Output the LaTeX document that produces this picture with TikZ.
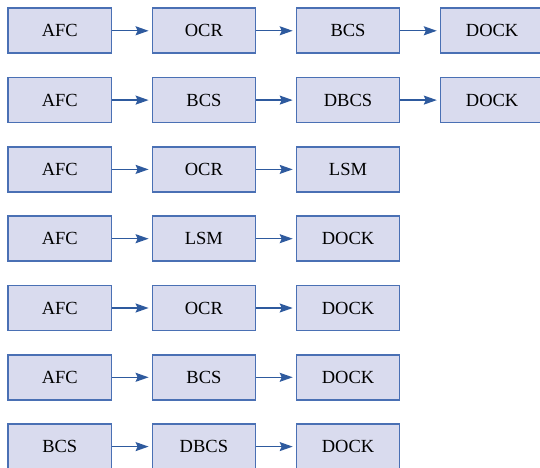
\documentclass[tikz,border=0pt]{standalone}
\usepackage{fontspec}
\setmainfont{Liberation Serif}
\usetikzlibrary{arrows.meta}
\definecolor{boxfill}{HTML}{D9DBEE}
\definecolor{boxline}{HTML}{4A70B4}
\definecolor{arrowcol}{HTML}{2E5A9E}
\tikzset{
  stagebox/.style={draw=boxline, fill=boxfill, line width=1.6bp, minimum width=103bp, minimum height=45bp, inner sep=0pt, font=\fontsize{18.5bp}{20bp}\selectfont},
  flow/.style={draw=arrowcol, line width=1.4bp, -{Stealth[length=13bp,width=9bp,inset=2bp]}, shorten >=3bp}
}
\begin{document}
\begin{tikzpicture}[x=1bp,y=-1bp]
\clip (0,0) rectangle (540,468);
\foreach \row/\labels in {1/{AFC,OCR,BCS,DOCK},2/{AFC,BCS,DBCS,DOCK},3/{AFC,OCR,LSM},4/{AFC,LSM,DOCK},5/{AFC,OCR,DOCK},6/{AFC,BCS,DOCK},7/{BCS,DBCS,DOCK}}{
  \foreach \lab [count=\col] in \labels {
    \node[stagebox] (r\row c\col) at ({59.8+144.1*(\col-1)},{30.8+69.3*(\row-1)}) {\lab};
    \ifnum\col>1
      \pgfmathtruncatemacro{\prev}{\col-1}
      \draw[flow] (r\row c\prev.east) -- (r\row c\col.west);
    \fi
  }
}
\end{tikzpicture}
\end{document}
